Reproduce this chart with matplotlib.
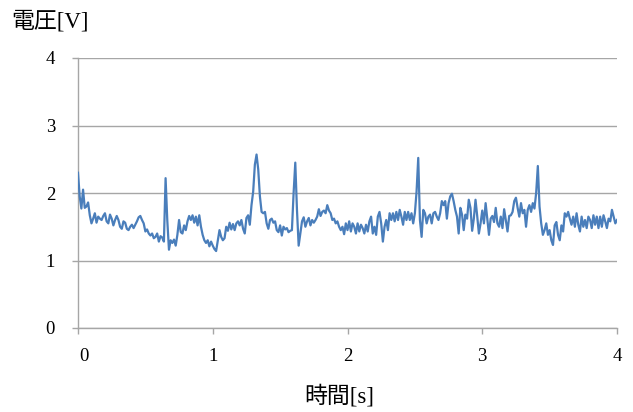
import matplotlib
matplotlib.use("Agg")
import matplotlib.pyplot as plt
import matplotlib.transforms as mtransforms
import numpy as np

# ---- data ----
dt = 0.0125  # s
voltage = [
    2.30, 1.95, 1.77, 2.05, 1.78, 1.80, 1.86, 1.67, 1.55, 1.62,
    1.70, 1.56, 1.65, 1.62, 1.60, 1.66, 1.70, 1.58, 1.55, 1.68,
    1.62, 1.52, 1.60, 1.66, 1.60, 1.50, 1.47, 1.58, 1.56, 1.47,
    1.45, 1.50, 1.53, 1.48, 1.53, 1.58, 1.64, 1.66, 1.60, 1.55,
    1.43, 1.46, 1.40, 1.37, 1.40, 1.33, 1.35, 1.40, 1.28, 1.36,
    1.34, 1.28, 2.22, 1.60, 1.16, 1.30, 1.26, 1.31, 1.22, 1.38,
    1.60, 1.42, 1.40, 1.52, 1.45, 1.58, 1.66, 1.60, 1.67, 1.56,
    1.65, 1.52, 1.67, 1.50, 1.38, 1.30, 1.26, 1.30, 1.21, 1.28,
    1.22, 1.17, 1.14, 1.30, 1.45, 1.35, 1.30, 1.33, 1.50, 1.44,
    1.56, 1.46, 1.54, 1.45, 1.55, 1.58, 1.52, 1.60, 1.47, 1.40,
    1.63, 1.67, 1.53, 1.82, 2.02, 2.42, 2.57, 2.35, 1.95, 1.72,
    1.70, 1.72, 1.55, 1.47, 1.60, 1.62, 1.56, 1.58, 1.45, 1.42,
    1.52, 1.37, 1.50, 1.46, 1.48, 1.42, 1.44, 1.45, 2.00, 2.45,
    1.75, 1.22, 1.40, 1.58, 1.64, 1.50, 1.58, 1.63, 1.52, 1.60,
    1.56, 1.60, 1.65, 1.76, 1.66, 1.72, 1.74, 1.70, 1.82, 1.74,
    1.70, 1.60, 1.62, 1.55, 1.58, 1.50, 1.45, 1.50, 1.39, 1.55,
    1.45, 1.58, 1.43, 1.55, 1.50, 1.40, 1.55, 1.43, 1.53, 1.48,
    1.40, 1.53, 1.43, 1.58, 1.65, 1.40, 1.50, 1.38, 1.65, 1.72,
    1.55, 1.28, 1.50, 1.60, 1.45, 1.70, 1.60, 1.70, 1.58, 1.72,
    1.60, 1.75, 1.65, 1.53, 1.72, 1.60, 1.72, 1.60, 1.70, 1.55,
    1.70, 2.02, 2.52, 1.60, 1.35, 1.75, 1.70, 1.55, 1.65, 1.68,
    1.55, 1.70, 1.72, 1.65, 1.60, 1.70, 1.88, 1.82, 1.88, 1.62,
    1.85, 1.95, 1.99, 1.88, 1.75, 1.65, 1.40, 1.78, 1.68, 1.45,
    1.68, 1.62, 1.90, 1.78, 1.44, 1.62, 1.90, 1.66, 1.40, 1.55,
    1.74, 1.55, 1.85, 1.62, 1.38, 1.62, 1.66, 1.57, 1.78, 1.55,
    1.50, 1.65, 1.48, 1.76, 1.60, 1.43, 1.66, 1.67, 1.72, 1.88,
    1.93, 1.78, 1.65, 1.85, 1.70, 1.75, 1.50, 1.75, 1.82, 1.72,
    1.85, 1.77, 2.00, 2.40, 1.80, 1.55, 1.38, 1.45, 1.55, 1.38,
    1.45, 1.30, 1.23, 1.52, 1.57, 1.38, 1.30, 1.52, 1.43, 1.70,
    1.65, 1.72, 1.62, 1.53, 1.65, 1.50, 1.70, 1.53, 1.43, 1.65,
    1.50, 1.60, 1.48, 1.65, 1.60, 1.48, 1.67, 1.53, 1.65, 1.48,
    1.65, 1.50, 1.67, 1.58, 1.48, 1.62, 1.58, 1.75, 1.65, 1.55,
    1.60,
]
time = np.arange(len(voltage)) * dt

x_ticks = [0, 1, 2, 3, 4]
y_ticks = [0, 1, 2, 3, 4]
y_label = "電圧[V]"
x_label = "時間[s]"

# ---- style ----
fam = ["Liberation Serif", "Noto Sans CJK JP", "DejaVu Sans"]
plt.rcParams["font.family"] = fam

W, H = 633, 412
fig = plt.figure(figsize=(W / 100, H / 100), dpi=100)
ax = fig.add_axes([78 / W, 1 - 328 / H, (617 - 78) / W, (328 - 58) / H])

grid_c = "#a6a6a6"
ax.plot(time, voltage, color="#4a7ebb", lw=1.6, solid_joinstyle="round", zorder=3)

ax.set_xlim(0, 4)
ax.set_ylim(0, 4)
ax.set_xticks(x_ticks)
ax.set_yticks(y_ticks)
ax.yaxis.grid(True, color=grid_c, lw=1.0)
ax.set_axisbelow(True)

for s in ["top", "right"]:
    ax.spines[s].set_visible(False)
for s in ["left", "bottom"]:
    ax.spines[s].set_color(grid_c)
    ax.spines[s].set_linewidth(1.0)

ax.tick_params(axis="both", color=grid_c, length=4.5, width=1.0,
               labelsize=13.5, labelcolor="black")
ax.tick_params(axis="y", pad=12)
ax.tick_params(axis="x", pad=10)

# shift first x label slightly right, as in reference
lbl0 = ax.get_xticklabels()[0]
lbl0.set_transform(lbl0.get_transform() +
                   mtransforms.ScaledTranslation(6 / 100, 0, fig.dpi_scale_trans))

fig.text(11 / W, 1 - 22 / H, y_label, ha="left", va="center",
         fontsize=16.5, family=fam)
fig.text(339 / W, 1 - 396 / H, x_label, ha="center", va="center",
         fontsize=16.5, family=fam)

fig.savefig("out.png", dpi=100, facecolor="white")
